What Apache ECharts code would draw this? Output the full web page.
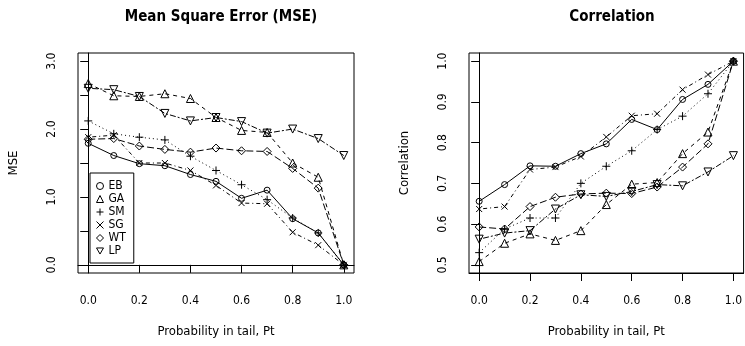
<!DOCTYPE html>
<html>
<head>
<meta charset="utf-8">
<script src="https://cdn.jsdelivr.net/npm/echarts@6/dist/echarts.min.js"></script>
<style>html,body{margin:0;padding:0;background:#fff}#c{width:745px;height:346px}</style>
</head>
<body>
<div id="c"></div>
<script>
var pt = [0, 0.1, 0.2, 0.3, 0.4, 0.5, 0.6, 0.7, 0.8, 0.9, 1.0];
var methods = ['EB', 'GA', 'SM', 'SG', 'WT', 'LP'];

var mseEB = [1.79, 1.61, 1.49, 1.46, 1.33, 1.23, 0.98, 1.10, 0.68, 0.47, 0.00];
var mseGA = [2.67, 2.49, 2.48, 2.52, 2.45, 2.17, 1.98, 1.95, 1.50, 1.29, 0.00];
var mseSM = [2.12, 1.93, 1.88, 1.84, 1.60, 1.39, 1.18, 0.96, 0.69, 0.47, 0.00];
var mseSG = [1.88, 1.91, 1.50, 1.50, 1.39, 1.17, 0.91, 0.90, 0.48, 0.29, 0.00];
var mseWT = [1.85, 1.86, 1.75, 1.70, 1.66, 1.72, 1.68, 1.67, 1.42, 1.13, 0.00];
var mseLP = [2.60, 2.58, 2.48, 2.23, 2.12, 2.17, 2.11, 1.94, 2.00, 1.86, 1.61];

var corEB = [0.656, 0.697, 0.743, 0.742, 0.773, 0.797, 0.857, 0.832, 0.906, 0.943, 1.000];
var corGA = [0.508, 0.553, 0.576, 0.560, 0.584, 0.648, 0.698, 0.702, 0.773, 0.826, 1.000];
var corSM = [0.530, 0.588, 0.615, 0.615, 0.700, 0.742, 0.780, 0.832, 0.865, 0.920, 1.000];
var corSG = [0.637, 0.643, 0.734, 0.740, 0.766, 0.814, 0.866, 0.871, 0.930, 0.967, 1.000];
var corWT = [0.593, 0.588, 0.643, 0.666, 0.674, 0.676, 0.675, 0.691, 0.740, 0.797, 1.000];
var corLP = [0.563, 0.578, 0.584, 0.637, 0.672, 0.668, 0.680, 0.697, 0.694, 0.728, 0.768];

var xTicks = [0, 0.2, 0.4, 0.6, 0.8, 1.0];
var mseTicks = [0, 0.5, 1.0, 1.5, 2.0, 2.5, 3.0];
var mseLabels = [0, 1.0, 2.0, 3.0];
var corTicks = [0.5, 0.6, 0.7, 0.8, 0.9, 1.0];

var titles = ['Mean Square Error (MSE)', 'Correlation'];
var yNames = ['MSE', 'Correlation'];
var xName = 'Probability in tail, Pt';

var FONT = '"DejaVu Sans Condensed", "Liberation Sans Narrow", "DejaVu Sans", sans-serif';
var PLUS = 'path://M0,-1L0,1M-1,0L1,0';
var CROSS = 'path://M-1,-1L1,1M-1,1L1,-1';
var DOWN = 'path://M-1,-0.87L1,-0.87L0,0.87Z';
var style = {
  EB: {symbol: 'circle', size: 6, dash: 'solid'},
  GA: {symbol: 'triangle', size: 8, dash: [4, 4]},
  SM: {symbol: PLUS, size: 8, dash: [1, 3]},
  SG: {symbol: CROSS, size: 6, dash: [1, 3, 4, 3]},
  WT: {symbol: 'diamond', size: 8, dash: [7, 3]},
  LP: {symbol: DOWN, size: 8, dash: [2, 2, 6, 2]}
};
var mse = {EB: mseEB, GA: mseGA, SM: mseSM, SG: mseSG, WT: mseWT, LP: mseLP};
var cor = {EB: corEB, GA: corGA, SM: corSM, SG: corSG, WT: corWT, LP: corLP};

function pairs(vals) { return pt.map(function (x, i) { return [x, vals[i]]; }); }

var series = [];
[mse, cor].forEach(function (set, gi) {
  methods.forEach(function (m) {
    var s = style[m];
    series.push({
      name: m, type: 'line', xAxisIndex: gi, yAxisIndex: gi,
      data: pairs(set[m]),
      symbol: s.symbol, symbolSize: s.size, showAllSymbol: true,
      itemStyle: {color: 'rgba(0,0,0,0)', borderColor: '#000', borderWidth: 1},
      lineStyle: {color: '#000', width: 1, type: s.dash},
      emphasis: {disabled: true}, animation: false
    });
  });
});

function xAx(gi) {
  return {
    gridIndex: gi, type: 'value', min: -0.04, max: 1.04,
    name: xName, nameLocation: 'middle', nameGap: 52,
    nameTextStyle: {fontFamily: FONT, fontSize: 13, color: '#000'},
    axisLine: {show: true, lineStyle: {color: '#000', width: 1}},
    axisTick: {show: true, length: 8, customValues: xTicks, lineStyle: {color: '#000'}},
    axisLabel: {customValues: xTicks, margin: 22, fontFamily: FONT, fontSize: 12, color: '#000',
      formatter: function (v) { return v.toFixed(1); }},
    splitLine: {show: false}
  };
}

var option = {
  backgroundColor: '#fff',
  animation: false,
  title: titles.map(function (t, i) {
    return {text: t, left: i === 0 ? 216 : 607, top: 5, textAlign: 'center',
      textStyle: {fontFamily: FONT, fontWeight: 'bold', fontSize: 15, color: '#000'}};
  }),
  grid: [
    {left: 78, right: 391, top: 53, bottom: 73, show: true, borderColor: '#000', borderWidth: 1, backgroundColor: 'rgba(0,0,0,0)'},
    {left: 469, right: 1, top: 53, bottom: 73, show: true, borderColor: '#000', borderWidth: 1, backgroundColor: 'rgba(0,0,0,0)'}
  ],
  legend: {
    orient: 'vertical', left: 90, top: 173,
    padding: [7, 8, 6, 6],
    borderColor: '#000', borderWidth: 1,
    itemWidth: 7, itemHeight: 7, itemGap: 1,
    itemStyle: {color: 'rgba(0,0,0,0)', borderColor: '#000', borderWidth: 1},
    textStyle: {fontFamily: FONT, fontSize: 12, color: '#000', lineHeight: 12},
    data: methods.map(function (m) { return {name: m, icon: style[m].symbol}; }),
    selectedMode: false
  },
  xAxis: [xAx(0), xAx(1)],
  yAxis: [
    {gridIndex: 0, type: 'value', min: -0.12, max: 3.12,
      name: yNames[0], nameLocation: 'middle', nameGap: 58,
      nameTextStyle: {fontFamily: FONT, fontSize: 13, color: '#000'},
      axisLine: {show: true, lineStyle: {color: '#000'}},
      axisTick: {show: true, length: 8, customValues: mseTicks, lineStyle: {color: '#000'}},
      axisLabel: {customValues: mseLabels, rotate: 90, margin: 20, fontFamily: FONT, fontSize: 12, color: '#000',
        formatter: function (v) { return v.toFixed(1); }},
      splitLine: {show: false}},
    {gridIndex: 1, type: 'value', min: 0.48, max: 1.02,
      name: yNames[1], nameLocation: 'middle', nameGap: 58,
      nameTextStyle: {fontFamily: FONT, fontSize: 13, color: '#000'},
      axisLine: {show: true, lineStyle: {color: '#000'}},
      axisTick: {show: true, length: 8, customValues: corTicks, lineStyle: {color: '#000'}},
      axisLabel: {customValues: corTicks, rotate: 90, margin: 20, fontFamily: FONT, fontSize: 12, color: '#000',
        formatter: function (v) { return v.toFixed(1); }},
      splitLine: {show: false}}
  ],
  series: series
};
var chart = echarts.init(document.getElementById('c'), null, {renderer: 'canvas'});
chart.setOption(option);
</script>
</body>
</html>
